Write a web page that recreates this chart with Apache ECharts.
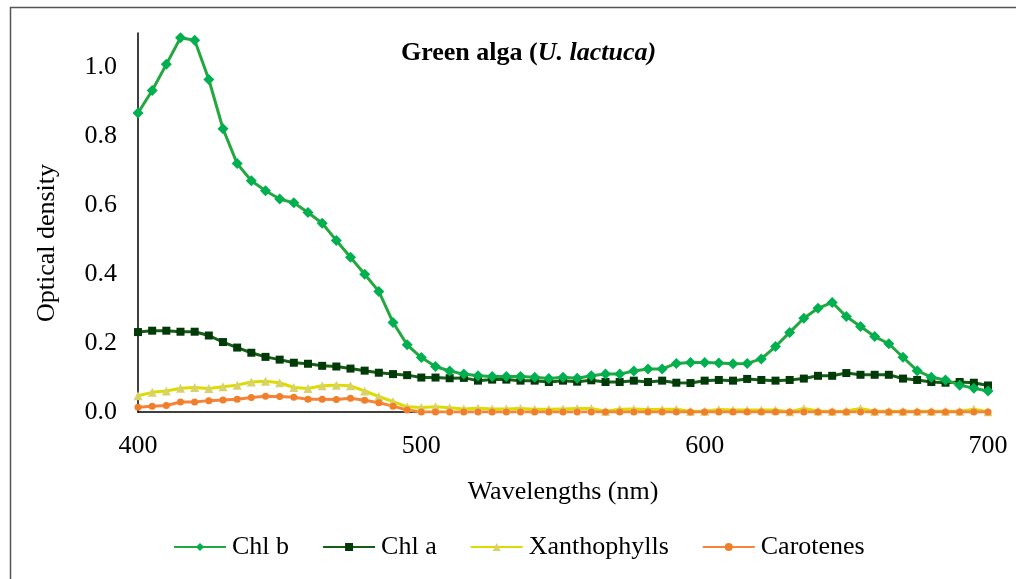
<!DOCTYPE html>
<html>
<head>
<meta charset="utf-8">
<script src="https://cdn.jsdelivr.net/npm/echarts@6/dist/echarts.min.js"></script>
<style>html,body{margin:0;padding:0;background:#fff;}#c{width:1016px;height:579px;}</style>
</head>
<body>
<div id="c"></div>
<script>
const wavelengths = [400,405,410,415,420,425,430,435,440,445,450,455,460,465,470,475,480,485,490,495,
  500,505,510,515,520,525,530,535,540,545,550,555,560,565,570,575,580,585,590,595,
  600,605,610,615,620,625,630,635,640,645,650,655,660,665,670,675,680,685,690,695,700];
const chlB = [0.868,0.933,1.009,1.086,1.079,0.965,0.822,0.721,0.671,0.642,0.618,0.607,0.579,0.548,0.498,0.449,0.400,0.350,0.260,0.195,
  0.158,0.132,0.119,0.110,0.105,0.103,0.103,0.103,0.101,0.097,0.101,0.098,0.105,0.110,0.110,0.119,0.125,0.125,0.141,0.144,
  0.144,0.142,0.140,0.141,0.154,0.190,0.231,0.272,0.301,0.318,0.277,0.248,0.219,0.198,0.159,0.120,0.101,0.093,0.078,0.069,0.061];
const chlA = [0.232,0.236,0.236,0.233,0.233,0.222,0.203,0.187,0.172,0.160,0.152,0.143,0.140,0.134,0.132,0.126,0.120,0.114,0.110,0.107,
  0.100,0.100,0.098,0.099,0.091,0.094,0.094,0.091,0.091,0.087,0.091,0.088,0.092,0.087,0.087,0.091,0.087,0.091,0.085,0.084,
  0.091,0.093,0.091,0.096,0.093,0.091,0.093,0.097,0.105,0.105,0.113,0.108,0.108,0.108,0.097,0.093,0.087,0.085,0.087,0.085,0.077];
const xanthophylls = [0.047,0.057,0.061,0.069,0.071,0.068,0.073,0.078,0.087,0.089,0.085,0.071,0.068,0.076,0.078,0.076,0.061,0.045,0.030,0.015,
  0.013,0.015,0.012,0.009,0.011,0.009,0.009,0.010,0.008,0.008,0.009,0.010,0.010,0.002,0.008,0.009,0.007,0.008,0.008,0.002,
  0.002,0.007,0.006,0.006,0.006,0.006,0.001,0.010,0.003,0.002,0.003,0.010,0.002,0.002,0.002,0.002,0.002,0.002,0.002,0.008,0.001];
const carotenes = [0.014,0.017,0.019,0.029,0.029,0.033,0.035,0.037,0.042,0.046,0.045,0.043,0.037,0.037,0.036,0.040,0.034,0.027,0.017,0.006,
  0.000,0.000,0.000,0.000,0.000,0.000,0.000,0.000,0.000,0.000,0.000,0.000,0.000,0.000,0.000,0.000,0.000,0.000,0.000,0.000,
  0.000,0.000,0.000,0.000,0.000,0.000,0.000,0.000,0.000,0.000,0.000,0.000,0.000,0.000,0.000,0.000,0.000,0.000,0.000,0.000,0.000];
const yTicks = ['0.0','0.2','0.4','0.6','0.8','1.0'];
const xTicks = ['400','500','600','700'];

const FONT = '"Liberation Serif","DejaVu Serif",serif';
const FS = 26;
const pair = arr => wavelengths.map((w,i)=>[w,arr[i]]);

const chart = echarts.init(document.getElementById('c'), null, {renderer:'canvas'});
chart.setOption({
  animation:false,
  backgroundColor:'#fff',
  title:{
    text:'{b|Green alga (}{i|U. lactuca)}',
    left:401, top:40, padding:0,
    textStyle:{rich:{
      b:{fontFamily:FONT,fontSize:FS,fontWeight:'bold',color:'#000'},
      i:{fontFamily:FONT,fontSize:FS,fontWeight:'bold',fontStyle:'italic',color:'#000'}
    }}
  },
  graphic:[
    {type:'rect',left:8,top:5,shape:{width:1030,height:600},style:{fill:'none',stroke:'#555',lineWidth:1.5},silent:true,z:-1},
    {type:'text',x:47,y:243,rotation:Math.PI/2,style:{text:'Optical density',font:FS+'px '+FONT,fill:'#000',align:'center',verticalAlign:'middle'}}
  ],
  legend:{
    top:529, left:168,
    itemWidth:52, itemHeight:10, itemGap:33,
    textStyle:{fontFamily:FONT,fontSize:FS,color:'#000',padding:[0,0,0,1]},
    data:['Chl b','Chl a','Xanthophylls','Carotenes']
  },
  grid:{left:138,right:28,top:33,bottom:167},
  xAxis:{
    type:'value',min:400,max:700,interval:100,
    name:'Wavelengths (nm)',nameLocation:'middle',nameGap:67,
    nameTextStyle:{fontFamily:FONT,fontSize:FS,color:'#000'},
    axisLine:{show:true,onZero:false,lineStyle:{color:'#000',width:1.5}},
    axisTick:{show:false},
    splitLine:{show:false},
    axisLabel:{fontFamily:FONT,fontSize:FS,color:'#000',margin:21,
      formatter:v=>xTicks.includes(String(v))?String(v):''}
  },
  yAxis:{
    type:'value',min:0,max:1.1,interval:0.2,
    axisLine:{show:true,lineStyle:{color:'#000',width:1.5}},
    axisTick:{show:false},
    splitLine:{show:false},
    axisLabel:{fontFamily:FONT,fontSize:FS,color:'#000',margin:21,
      formatter:v=>{const s=v.toFixed(1);return yTicks.includes(s)&&Math.abs(v*5-Math.round(v*5))<1e-6?s:'';}}
  },
  series:[
    {name:'Chl b',type:'line',data:pair(chlB),symbol:'diamond',symbolSize:11,
      lineStyle:{color:'#22a83e',width:3},itemStyle:{color:'#00b050'},color:'#22a83e',z:5},
    {name:'Chl a',type:'line',data:pair(chlA),symbol:'rect',symbolSize:8,
      lineStyle:{color:'#175c17',width:3},itemStyle:{color:'#003a08'},color:'#175c17',z:4},
    {name:'Xanthophylls',type:'line',data:pair(xanthophylls),symbol:'triangle',symbolSize:9,
      lineStyle:{color:'#dcdc00',width:3},itemStyle:{color:'#d8d26a'},color:'#dcdc00',z:3},
    {name:'Carotenes',type:'line',data:pair(carotenes),symbol:'circle',symbolSize:7,
      lineStyle:{color:'#f5843a',width:3},itemStyle:{color:'#f07f2c'},color:'#f5843a',z:3}
  ]
});
</script>
</body>
</html>
